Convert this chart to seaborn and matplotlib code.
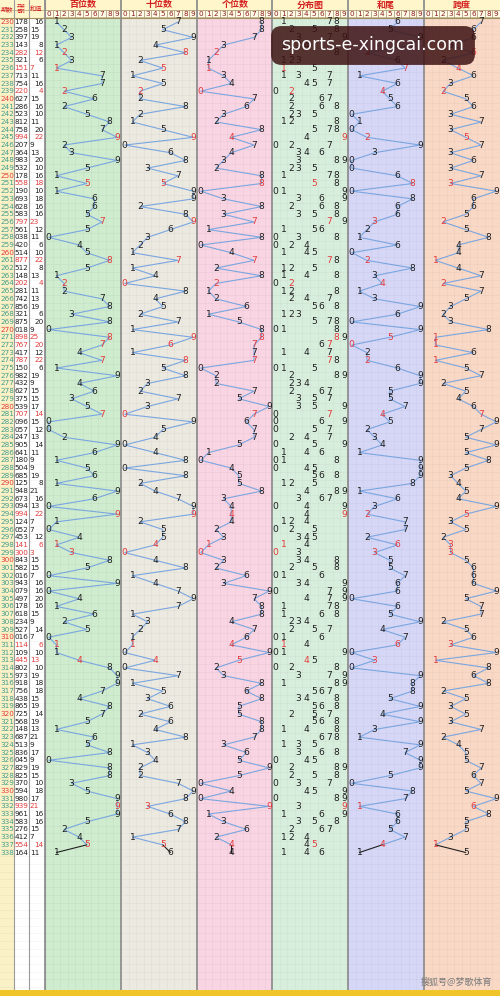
import numpy as np
import pandas as pd
import matplotlib
matplotlib.use("Agg")
import matplotlib.pyplot as plt
import seaborn as sns
from matplotlib.patches import Rectangle

# ---------------- data ----------------
periods = list(range(230, 339))
draws = ["178", "258", "397", "143", "282", "321", "151", "713", "754", "220",
         "627", "286", "523", "812", "758", "994", "207", "364", "983", "532",
         "178", "558", "190", "693", "628", "583", "797", "561", "038", "420",
         "514", "877", "512", "148", "202", "281", "742", "856", "321", "875",
         "018", "898", "767", "417", "787", "150", "982", "432", "627", "375",
         "539", "707", "096", "057", "247", "905", "641", "180", "504", "685",
         "125", "948", "673", "094", "994", "124", "052", "453", "141", "300",
         "843", "582", "016", "943", "079", "497", "178", "618", "234", "527",
         "016", "114", "109", "445", "802", "973", "918", "756", "438", "865",
         "725", "568", "148", "687", "513", "836", "045", "829", "825", "370",
         "594", "980", "939", "961", "583", "276", "412", "554", "164"]
sums = [16, 15, 19, 8, 12, 6, 7, 11, 16, 4,
        15, 16, 10, 11, 20, 22, 9, 13, 20, 10,
        16, 18, 10, 18, 16, 16, 23, 12, 11, 6,
        10, 22, 8, 13, 4, 11, 13, 19, 6, 20,
        9, 25, 20, 12, 22, 6, 19, 9, 15, 15,
        17, 14, 15, 12, 13, 14, 11, 9, 9, 19,
        8, 21, 16, 13, 22, 7, 7, 12, 6, 3,
        15, 15, 7, 16, 16, 20, 16, 15, 9, 14,
        7, 6, 10, 13, 10, 19, 18, 18, 15, 19,
        14, 19, 13, 21, 9, 17, 9, 19, 15, 10,
        18, 17, 21, 16, 16, 15, 7, 14, 11]
sections = ["百位数", "十位数", "个位数", "分布图", "和尾", "跨度"]
digit_labels = [str(d) for d in range(10)]
left_headers = ["期数", "开奖\n号码", "和值"]

# derived series
hundreds = [int(d[0]) for d in draws]
tens = [int(d[1]) for d in draws]
units = [int(d[2]) for d in draws]
tail = [s % 10 for s in sums]
span = [max(map(int, d)) - min(map(int, d)) for d in draws]
is_pair = [len(set(d)) < 3 for d in draws]

# ---------------- style ----------------
sns.set_theme(style="white")
plt.rcParams['font.family'] = ['DejaVu Sans', 'Noto Sans CJK SC']
CJK = ['Noto Sans CJK SC', 'DejaVu Sans']

W, H = 500, 996
ROW0, RH = 22.0, 7.69
def ry(pix):
    return (pix - ROW0) / RH

fig = plt.figure(figsize=(W / 100, H / 100), dpi=100)
ax = fig.add_axes([0, 0, 1, 1])
ax.set_xlim(0, W)
ax.set_ylim(ry(H), ry(0))
ax.axis("off")

sec_x = [45, 121, 197, 272, 348, 424]
sec_w = 76
cw = sec_w / 10
sec_bg = ["#cfeccf", "#ece9e1", "#f9d4e3", "#d8eedd", "#d6d6f6", "#f9d8c6"]

top, bot = ry(18), ry(990)
# left columns backgrounds
ax.add_patch(Rectangle((0, top), 14, bot - top, fc="#fbf1c6", ec="none", zorder=0))
ax.add_patch(Rectangle((14, top), 31, bot - top, fc="#ffffff", ec="none", zorder=0))
for i in range(len(periods) + 18):
    ax.plot([0, 45], [i - 0.5, i - 0.5], color="#000000", alpha=0.06, lw=0.4, zorder=1)
for xv in [14, 29, 44.5]:
    ax.plot([xv, xv], [ry(0), bot], color="#9a9a9a", lw=0.8, zorder=2)

# section backgrounds and grids
for k, x0 in enumerate(sec_x):
    ax.add_patch(Rectangle((x0, top), sec_w, bot - top, fc=sec_bg[k], ec="none", zorder=0))
    for j in range(1, 10):
        ax.plot([x0 + j * cw] * 2, [top, bot], color="#000000", alpha=0.05, lw=0.4, zorder=1)
    for i in range(int(bot) + 1):
        ax.plot([x0, x0 + sec_w], [i - 0.5, i - 0.5], color="#000000", alpha=0.05, lw=0.4, zorder=1)
    ax.plot([x0, x0], [ry(0), bot], color="#8f8f8f", lw=1.3, zorder=3)

# header
ax.add_patch(Rectangle((0, ry(0)), W, ry(18) - ry(0), fc="#fff6cc", ec="none", zorder=0))
ax.plot([0, W], [ry(10), ry(10)], color="#b0a070", lw=0.5, zorder=2)
ax.plot([0, W], [ry(18), ry(18)], color="#a09060", lw=0.8, zorder=2)
for k, x0 in enumerate(sec_x):
    ax.text(x0 + sec_w / 2, ry(5), sections[k], ha="center", va="center",
            fontsize=6.5, color="#d42020", fontweight="bold", family=CJK, zorder=5)
    for j in range(10):
        ax.add_patch(Rectangle((x0 + j * cw, ry(10.5)), cw, ry(17.5) - ry(10.5),
                               fc="#fffbe8", ec="#a08c60", lw=0.4, zorder=2))
        ax.text(x0 + (j + 0.5) * cw, ry(14.2), digit_labels[j], ha="center", va="center",
                fontsize=5.2, color="#8a1c1c", zorder=5)
for xc, lab, fs in zip([7, 21.5, 36.5], left_headers, [4.5, 3.2, 4.5]):
    ax.text(xc, ry(9), lab, ha="center", va="center", fontsize=fs, color="#d42020",
            family=CJK, linespacing=1.0, zorder=5)

RED = "#e23a3a"
BLK = "#1e1e1e"
LINE = "#7aa6e0"

rows = np.arange(len(periods))
# left text columns
for i, p in enumerate(periods):
    pc = RED if p % 10 == 0 else "#3f9e8c"
    ax.text(7, i, str(p), ha="center", va="center", fontsize=5.2, color=pc, zorder=5)
    tc = RED if is_pair[i] else BLK
    ax.text(21.5, i, draws[i], ha="center", va="center", fontsize=5.2, color=tc, zorder=5)
    if sums[i] % 2:
        ax.text(29.8, i, str(sums[i]), ha="left", va="center", fontsize=5.2, color=tc, zorder=5)
    else:
        ax.text(43.5, i, str(sums[i]), ha="right", va="center", fontsize=5.2, color=tc, zorder=5)

# trend sections
series = {0: hundreds, 1: tens, 2: units, 4: tail, 5: span}
for k, vals in series.items():
    x0 = sec_x[k]
    df = pd.DataFrame({"row": rows, "x": [x0 + (v + 0.5) * cw for v in vals]})
    sns.lineplot(data=df.iloc[:-1], x="x", y="row", sort=False, estimator=None,
                 color=LINE, lw=0.8, ax=ax, zorder=3)
    sns.lineplot(data=df.iloc[-2:], x="x", y="row", sort=False, estimator=None,
                 color="#202020", lw=0.8, ax=ax, zorder=3)
    for i, v in enumerate(vals):
        ax.text(x0 + (v + 0.5) * cw, i, str(v), ha="center", va="center",
                fontsize=6.6, color=RED if is_pair[i] else BLK, zorder=6)

# distribution section
x0 = sec_x[3]
for i, d in enumerate(draws):
    digs = [int(c) for c in d]
    for v in sorted(set(digs)):
        col = RED if digs.count(v) > 1 else BLK
        ax.text(x0 + (v + 0.5) * cw, i, str(v), ha="center", va="center",
                fontsize=6.6, color=col, zorder=6)

ax.set_xlim(0, W)
ax.set_ylim(ry(H), ry(0))
ax.set_xlabel("")
ax.set_ylabel("")

# bottom bar
ax.add_patch(Rectangle((0, ry(990)), W, ry(996) - ry(990), fc="#f0c52a", ec="none", zorder=4))

# watermarks
ax.text(373, ry(45.5), "sports-e-xingcai.com", ha="center", va="center", fontsize=12.5,
        color="white", zorder=10,
        bbox=dict(boxstyle="round,pad=0.6,rounding_size=0.6", fc=(0.24, 0.07, 0.07, 0.85), ec="none"))
ax.text(492, ry(982), "搜狐号@梦歌体育", ha="right", va="center", fontsize=6.5,
        color="#7a7a7a", family=CJK, zorder=10)

fig.savefig("out.png", dpi=100)
